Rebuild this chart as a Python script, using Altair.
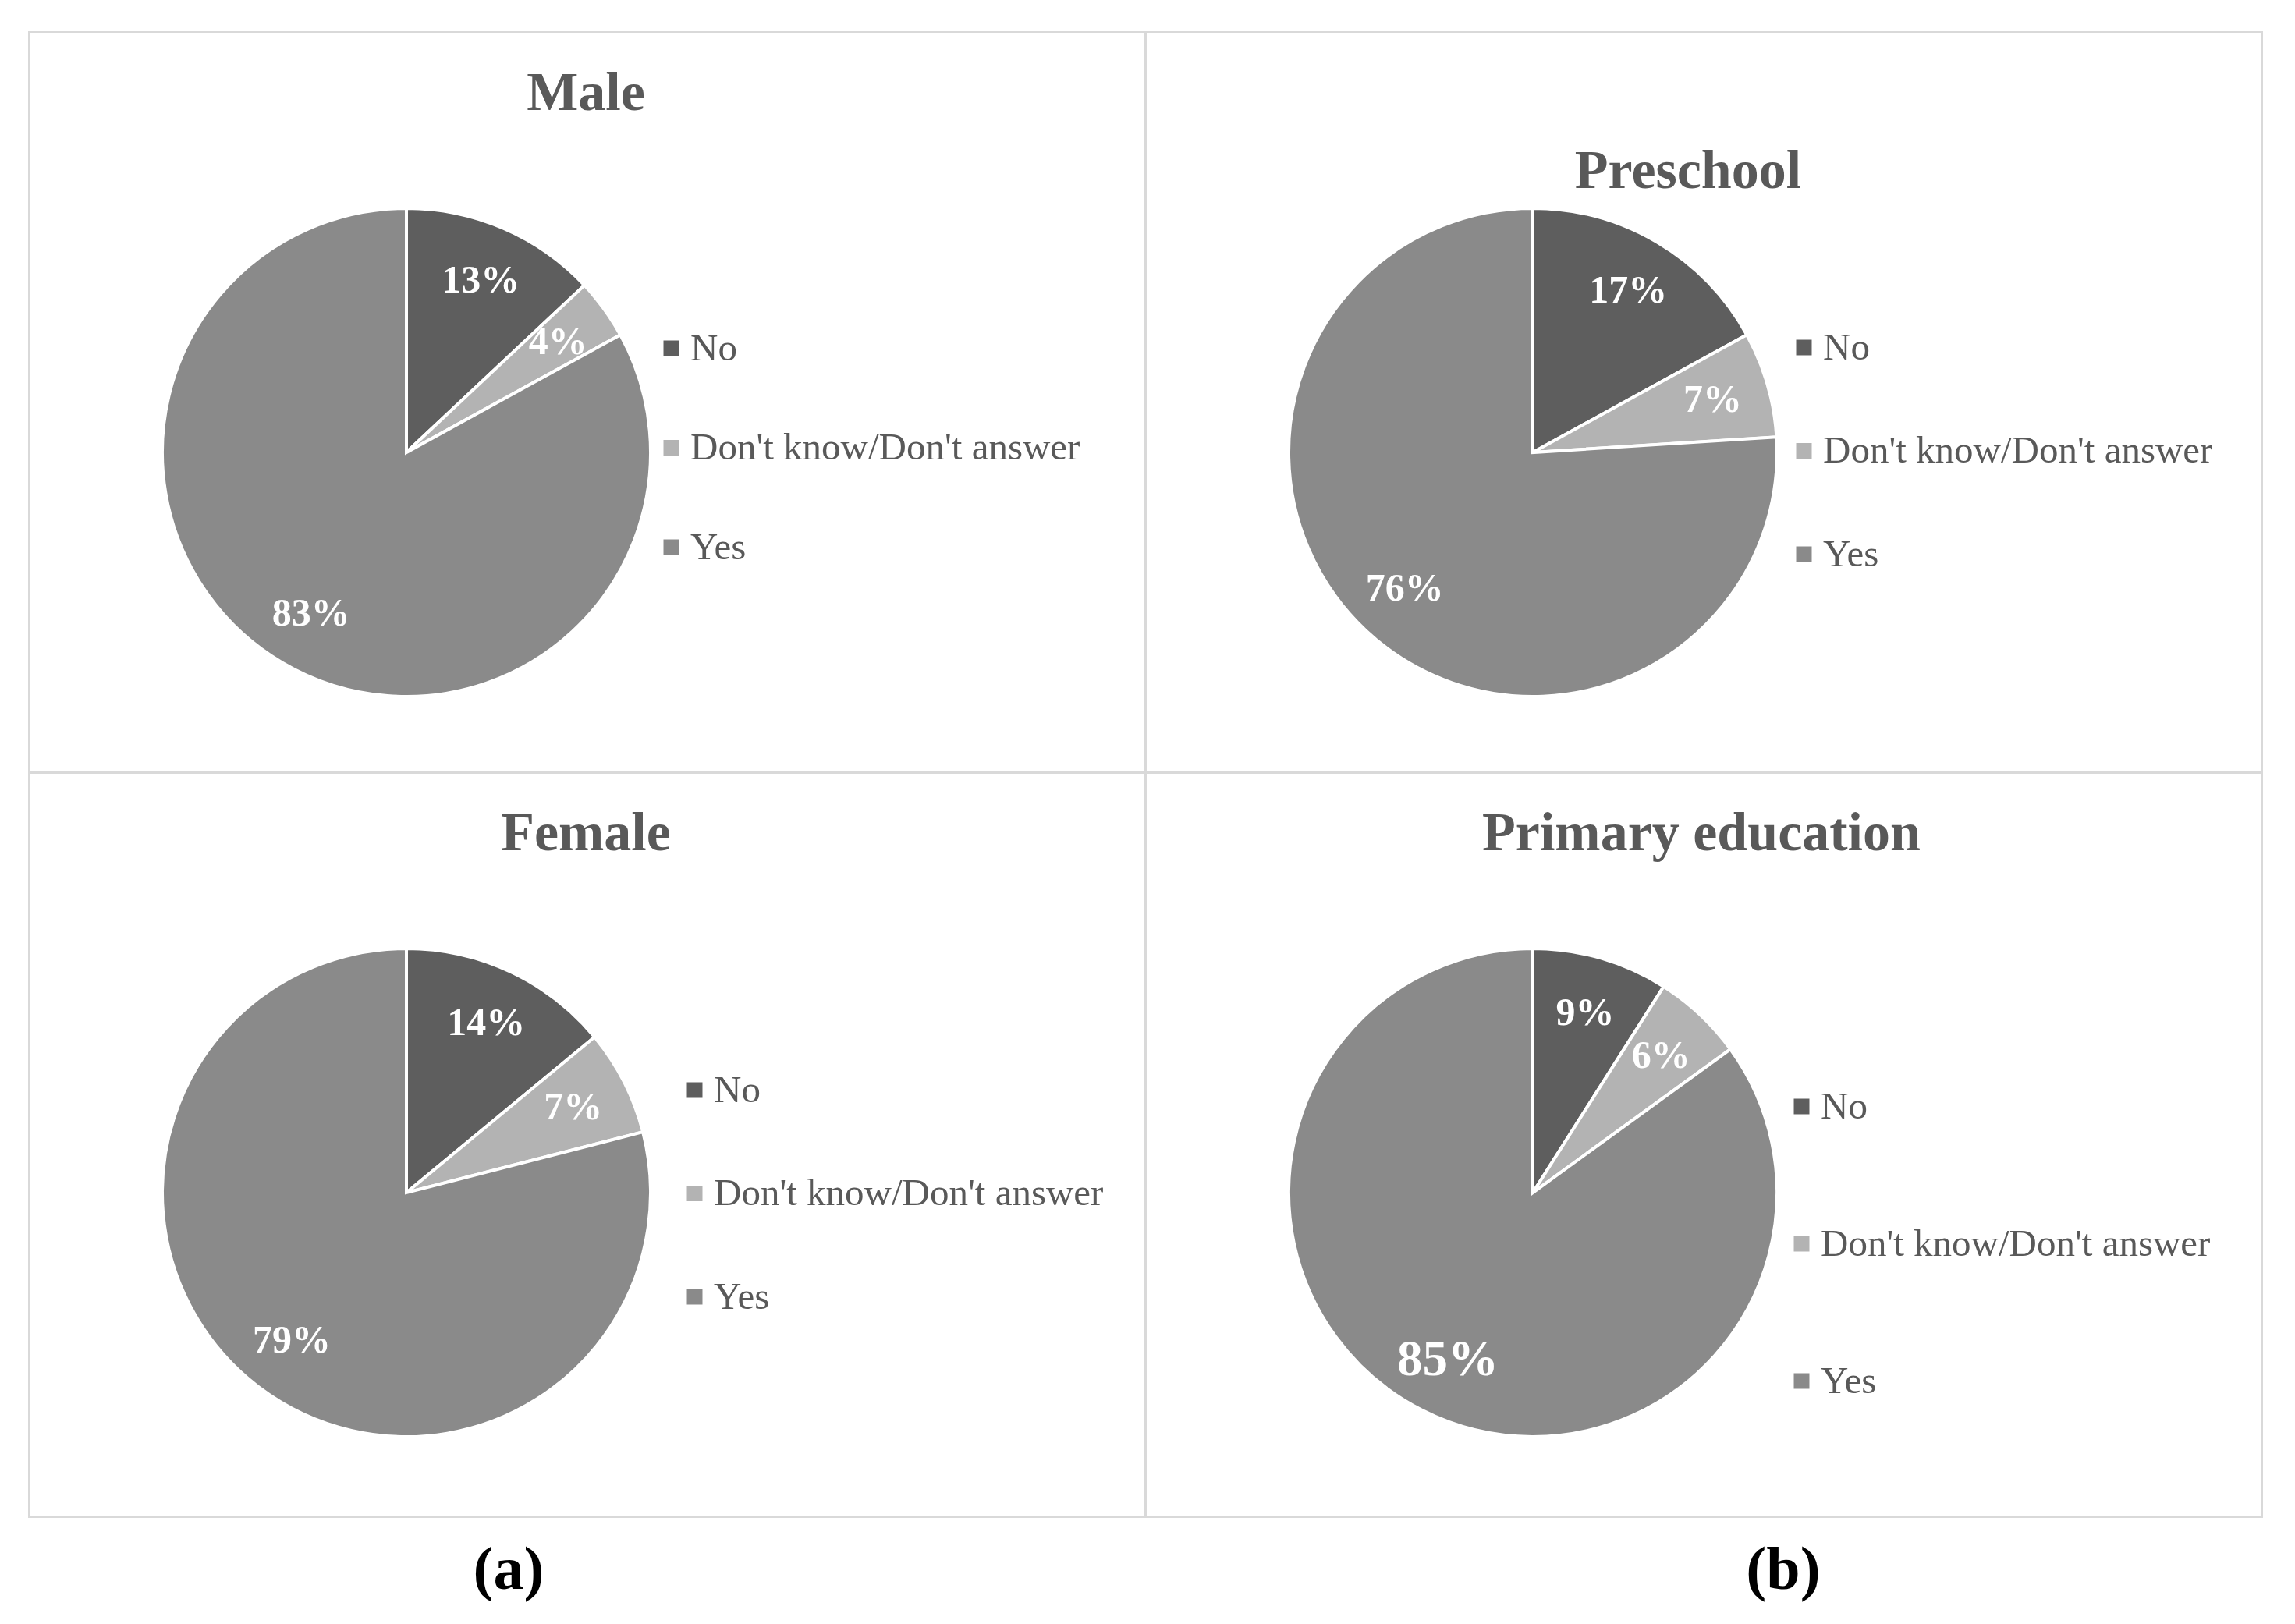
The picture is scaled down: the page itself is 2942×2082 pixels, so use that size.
import altair as alt
import pandas as pd

# ---- data ----
categories = ["No", "Don't know/Don't answer", "Yes"]
colors = ["#5e5e5e", "#b3b3b3", "#8a8a8a"]
male = [13, 4, 83]
preschool = [17, 7, 76]
female = [14, 7, 79]
primary = [9, 6, 85]
panel_titles = ["Male", "Preschool", "Female", "Primary education"]
sublabels = ["(a)", "(b)"]

SERIF = "Liberation Serif"
TXT = "#595959"


def panel(title, vals, w, h, cx, cy, tx, ty, lx, ly, row_pad,
          big_yes=False, sub=None, sx=0, sy=0):
    df = pd.DataFrame({"category": categories, "value": vals, "ord": [0, 1, 2]})
    base = alt.Chart(df).transform_calculate(label="datum.value + '%'").encode(
        theta=alt.Theta("value:Q", stack=True),
        order=alt.Order("ord:Q"),
        x=alt.value(cx),
        y=alt.value(cy),
    )
    arc = base.mark_arc(radius=313, stroke="white", strokeWidth=4).encode(
        color=alt.Color(
            "category:N",
            scale=alt.Scale(domain=categories, range=colors),
            legend=alt.Legend(
                title=None,
                orient="none",
                legendX=lx,
                legendY=ly,
                symbolType="square",
                symbolSize=400,
                symbolStrokeWidth=0,
                labelFont=SERIF,
                labelFontSize=49,
                labelColor=TXT,
                labelOffset=0,
                labelLimit=2000,
                rowPadding=row_pad,
            ),
        )
    )
    if big_yes:
        size = alt.condition("datum.category == 'Yes'", alt.value(65), alt.value(50))
    else:
        size = alt.value(50)
    text = base.mark_text(
        radius=240, font=SERIF, fontWeight="bold", color="white",
        align="center", baseline="middle"
    ).encode(text="label:N", size=size)
    ttl = alt.Chart(pd.DataFrame({"t": [title]})).mark_text(
        font=SERIF, fontSize=70, fontWeight="bold", color=TXT,
        align="center", baseline="alphabetic"
    ).encode(text="t:N", x=alt.value(tx), y=alt.value(ty))
    layers = [arc, text, ttl]
    if sub is not None:
        layers.append(
            alt.Chart(pd.DataFrame({"t": [sub]})).mark_text(
                font=SERIF, fontWeight="bold", fontSize=78, color="black",
                align="center", baseline="alphabetic"
            ).encode(text="t:N", x=alt.value(sx), y=alt.value(sy))
        )
    return alt.layer(*layers).properties(width=w, height=h)


p1 = panel(panel_titles[0], male, 1430, 948, 484, 539, 714, 100, 799, 381, 77.5)
p2 = panel(panel_titles[1], preschool, 1431, 948, 496, 539, 695, 200, 819, 380, 82.5)
p3 = panel(panel_titles[2], female, 1430, 954, 484, 538, 714, 99, 829, 382, 82.5,
           sub=sublabels[0], sx=615, sy=1046)
p4 = panel(panel_titles[3], primary, 1431, 954, 496, 538, 712, 99, 816, 403, 126,
           big_yes=True, sub=sublabels[1], sx=817, sy=1046)

row1 = alt.hconcat(p1, p2, spacing=0).resolve_scale(color="independent").resolve_legend(color="independent")
row2 = alt.hconcat(p3, p4, spacing=0).resolve_scale(color="independent").resolve_legend(color="independent")

chart = (
    alt.vconcat(row1, row2, spacing=0)
    .resolve_scale(color="independent")
    .resolve_legend(color="independent")
    .properties(padding={"left": 28, "top": 32, "right": 10, "bottom": 10}, background="white")
    .configure_view(stroke="#d9d9d9", strokeWidth=2)
    .configure_concat(spacing=0)
)

chart.save("out.html", embed_options={"renderer": "svg", "actions": False})
